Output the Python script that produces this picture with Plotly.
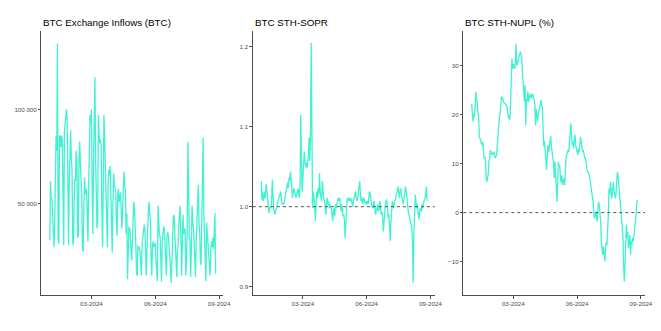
import pandas as pd
import plotly.graph_objects as go

dates = pd.date_range("2024-01-01", "2024-08-27", freq="D")

inflows = [
    30700, 62000, 53000, 53000, 45000, 30000, 27000,
    40000, 70000, 86000, 78000, 135000, 31000, 29000,
    86000, 86000, 80000, 86000, 84000, 30000, 28000,
    88000, 92000, 95000, 100000, 95000, 30000, 28000,
    62000, 88000, 89000, 75000, 68000, 30000, 28000,
    50000, 63000, 62000, 78000, 74000, 32000, 33000,
    70000, 83000, 72000, 63000, 55000, 26000, 24600,
    45000, 64000, 55000, 58000, 57000, 35000, 30000,
    60000, 90000, 97000, 93000, 100000, 60000, 34000,
    70000, 100000, 117000, 73000, 60000, 37000, 40000,
    97000, 87000, 82000, 84000, 81000, 45000, 27000,
    60000, 97000, 85000, 70000, 65000, 40000, 27000,
    60000, 68000, 65000, 70000, 55000, 35000, 24000,
    50000, 66000, 60000, 58000, 57000, 40000, 33000,
    55000, 58000, 51000, 55000, 56000, 45000, 37000,
    48000, 66000, 67000, 60000, 57000, 34000, 45000,
    10000, 37000, 38000, 37000, 34000, 25000, 20000,
    30000, 50000, 51000, 48000, 40000, 28000, 13000,
    12000, 28000, 26000, 27000, 24600, 18000, 12000,
    28000, 33000, 38000, 39000, 37000, 20000, 12000,
    25000, 40000, 45000, 51000, 42000, 40000, 20000,
    12000, 28000, 30000, 27000, 28000, 29000, 20000,
    9000, 9000, 49000, 35000, 33000, 33000, 22000,
    8700, 30000, 37000, 38000, 37000, 27000, 18000,
    12000, 33000, 35000, 33000, 28000, 24000, 15000,
    8000, 20000, 40000, 43000, 44000, 36000, 33000,
    18000, 11000, 26000, 28000, 40000, 45000, 49000,
    30000, 12000, 30000, 44000, 34000, 37000, 36000,
    12000, 20000, 35000, 83000, 40000, 34000, 30000,
    11000, 25000, 49000, 40000, 38000, 30000, 20000,
    11000, 30000, 40000, 45000, 60000, 40000, 35000,
    20000, 17500, 40000, 60000, 85000, 44000, 30000,
    10000, 9000, 40000, 35000, 26000, 25000, 20000,
    12000, 25000, 30000, 27000, 32000, 26000, 35000,
    45000, 13000,
]

sopr = [
    1.032, 1.009, 1.019, 1.007, 1.011, 1.019, 1.011,
    1.028, 1.023, 1.007, 0.994, 0.992, 0.998, 1.000,
    0.998, 1.007, 1.034, 0.998, 0.996, 0.994, 0.990,
    0.996, 0.998, 1.003, 1.007, 1.009, 1.011, 1.015,
    1.019, 1.011, 1.003, 1.005, 1.003, 1.005, 1.011,
    1.015, 1.019, 1.028, 1.030, 1.023, 1.036, 1.032,
    1.044, 1.036, 1.015, 1.011, 1.019, 1.023, 1.019,
    1.015, 1.011, 1.015, 1.019, 1.023, 1.015, 1.011,
    1.028, 1.115, 1.057, 1.019, 1.036, 1.048, 1.069,
    1.057, 1.050, 1.055, 1.048, 1.053, 1.065, 1.086,
    1.057, 1.090, 1.205, 1.053, 0.998, 1.019, 1.011,
    1.003, 0.982, 1.015, 1.019, 1.011, 1.023, 1.015,
    1.042, 1.019, 1.015, 1.007, 1.032, 1.015, 1.011,
    1.007, 1.003, 0.990, 1.007, 1.011, 1.003, 1.007,
    0.998, 1.003, 1.000, 0.998, 0.990, 0.982, 0.994,
    0.998, 0.988, 1.003, 0.998, 1.005, 1.007, 1.011,
    1.007, 1.011, 0.998, 0.994, 1.003, 0.994, 0.988,
    0.990, 0.982, 0.961, 0.994, 0.998, 1.011, 1.007,
    1.011, 1.009, 1.007, 1.011, 1.007, 1.003, 1.000,
    1.007, 1.011, 1.015, 1.019, 1.011, 1.007, 1.011,
    1.019, 1.023, 1.032, 1.015, 1.007, 1.011, 1.003,
    1.009, 1.011, 1.005, 1.007, 1.003, 1.005, 1.007,
    1.003, 1.011, 1.019, 1.017, 1.007, 1.003, 1.000,
    0.998, 1.005, 1.007, 0.994, 0.990, 0.998, 0.996,
    1.003, 0.994, 0.998, 1.007, 0.998, 0.990, 0.994,
    0.986, 0.969, 0.982, 0.998, 1.003, 1.007, 1.009,
    0.998, 0.986, 0.990, 0.973, 0.957, 0.982, 0.998,
    1.007, 1.003, 0.998, 1.005, 1.007, 1.011, 1.015,
    1.019, 1.025, 1.019, 1.011, 1.019, 1.023, 1.015,
    1.011, 1.007, 1.003, 1.011, 1.019, 1.025, 1.019,
    1.007, 0.998, 0.994, 0.990, 0.986, 0.982, 0.978,
    0.973, 0.957, 0.905, 0.965, 0.998, 1.015, 1.007,
    0.998, 1.003, 0.990, 0.984, 0.990, 0.998, 0.996,
    0.994, 1.003, 0.998, 1.005, 1.007, 1.011, 1.015,
    1.025, 1.007,
]

nupl = [
    22.3, 20.4, 18.6, 20.1, 19.6, 21.8, 24.7,
    23.0, 22.6, 20.5, 19.9, 15.5, 15.2, 14.8,
    14.1, 13.8, 14.5, 11.4, 11.1, 11.4, 10.5,
    7.0, 6.3, 7.2, 8.0, 10.7, 11.0, 12.8,
    12.1, 11.8, 12.1, 12.0, 12.5, 11.4, 11.1,
    11.5, 11.8, 14.0, 15.9, 18.6, 19.5, 20.2,
    22.0, 23.7, 23.6, 23.3, 22.6, 22.4, 22.3,
    22.1, 22.0, 21.5, 20.7, 19.3, 19.9, 18.9,
    21.8, 28.1, 31.5, 29.4, 30.4, 30.0, 29.4,
    30.8, 34.6, 30.1, 30.4, 31.1, 31.5, 32.2,
    32.9, 32.5, 31.8, 29.4, 27.4, 24.8, 22.7,
    26.1, 17.9, 23.3, 22.7, 24.8, 22.7, 23.3,
    24.3, 24.0, 23.3, 24.0, 24.3, 23.7, 23.0,
    22.4, 17.9, 21.3, 20.0, 18.6, 20.1, 20.6,
    21.3, 22.4, 23.0, 21.9, 21.5, 17.0, 13.5,
    14.6, 12.1, 11.8, 8.7, 11.8, 13.8, 12.4,
    13.8, 15.2, 15.6, 13.6, 11.8, 11.1, 10.4,
    7.1, 10.4, 6.3, 3.6, 2.2, 6.3, 10.4,
    9.5, 9.5, 7.0, 6.3, 7.7, 5.6, 6.3,
    7.0, 5.6, 9.0, 11.1, 11.8, 12.4, 12.8,
    12.4, 14.5, 16.5, 18.2, 15.9, 13.8, 14.5,
    13.1, 15.2, 15.9, 13.8, 13.1, 12.4, 11.8,
    13.1, 12.4, 13.8, 15.5, 14.5, 13.8, 12.4,
    12.8, 11.8, 11.1, 11.1, 10.0, 9.0, 8.3,
    8.2, 8.0, 7.3, 6.3, 5.2, 4.3, 3.6,
    2.2, 0.2, -1.2, -0.5, 0.2, -1.2, -1.8,
    0.9, 2.2, 1.5, -0.5, -1.8, -6.3, -7.7,
    -8.6, -6.9, -9.3, -10.0, -7.3, -6.0, -6.7,
    -4.6, -0.5, 5.0, 3.6, 6.3, 5.0, 2.9,
    4.3, 6.3, 5.0, 4.3, 2.9, 3.6, 6.3,
    8.3, 7.6, 5.6, 3.6, 1.5, 0.9, -0.5,
    -2.5, -4.6, -10.7, -14.1, -11.4, -7.3, -2.5,
    -5.2, -3.9, -7.3, -5.9, -4.6, -8.6, -5.9,
    -6.6, -5.2, -5.9, -4.6, -3.2, -3.2, -0.5,
    2.2, 2.6,
]

titles = ["BTC Exchange Inflows (BTC)", "BTC STH-SOPR", "BTC STH-NUPL (%)"]
x_tickvals = ["2024-03-01", "2024-06-01", "2024-09-01"]
x_ticktext = ["03-2024", "06-2024", "09-2024"]
y1_tickvals = [50000, 100000]
y2_tickvals = [0.9, 1.0, 1.1, 1.2]
y3_tickvals = [-10, 0, 10, 20, 30]
ref_lines = [None, 1.0, 0.0]

W, H = 661, 331
LINE = "#3ff2d2"
AX = "#4d4d4d"

fig = go.Figure()
series = [inflows, sopr, nupl]
for i, s in enumerate(series):
    sfx = "" if i == 0 else str(i + 1)
    fig.add_trace(go.Scatter(x=dates, y=s, mode="lines",
                             line=dict(color=LINE, width=1.3),
                             xaxis="x" + sfx, yaxis="y" + sfx,
                             showlegend=False, hoverinfo="skip"))

x_doms = [(42, 226), (256, 440), (469, 653)]
y_dom = [(H - 295) / H, (H - 31) / H]
y_ranges = [[1640, 141560], [0.8896, 1.2196], [-16.85, 37.15]]
y_ticks = [y1_tickvals, y2_tickvals, y3_tickvals]
y_fmt = [",d", ".1f", "d"]

font_tick = dict(family="Liberation Sans, Arial, sans-serif", size=6.2, color="#4d4d4d")
layout = dict(
    width=W, height=H,
    margin=dict(l=0, r=0, t=0, b=0),
    paper_bgcolor="white", plot_bgcolor="white",
    separators=". ",
    showlegend=False,
)
for i in range(3):
    sfx = "" if i == 0 else str(i + 1)
    x0, x1 = x_doms[i]
    layout["xaxis" + sfx] = dict(
        domain=[x0 / W, x1 / W], anchor="y" + sfx,
        range=["2023-12-20", "2024-09-07"], type="date",
        tickvals=x_tickvals, ticktext=x_ticktext,
        showline=True, linecolor=AX, linewidth=1,
        ticks="outside", ticklen=2.5, tickcolor=AX, tickwidth=0.8,
        tickfont=font_tick, showgrid=False, zeroline=False,
    )
    layout["yaxis" + sfx] = dict(
        domain=y_dom, anchor="x" + sfx,
        range=y_ranges[i], tickvals=y_ticks[i], tickformat=y_fmt[i],
        showline=True, linecolor=AX, linewidth=1,
        ticks="outside", ticklen=2.5, tickcolor=AX, tickwidth=0.8,
        tickfont=font_tick, showgrid=False, zeroline=False,
    )

fig.update_layout(**layout)

for i, t in enumerate(titles):
    fig.add_annotation(text=t, xref="paper", yref="paper",
                       x=x_doms[i][0] / W, y=(H - 23) / H,
                       xanchor="left", yanchor="middle", showarrow=False,
                       font=dict(family="Liberation Sans, Arial, sans-serif", size=9.8, color="black"))

for i, v in enumerate(ref_lines):
    if v is None:
        continue
    sfx = str(i + 1)
    fig.add_shape(type="line", xref="x" + sfx + " domain", yref="y" + sfx,
                  x0=0, x1=1, y0=v, y1=v,
                  line=dict(color="#555555", width=1, dash="dot"), layer="above")

fig.write_html("out.html")
